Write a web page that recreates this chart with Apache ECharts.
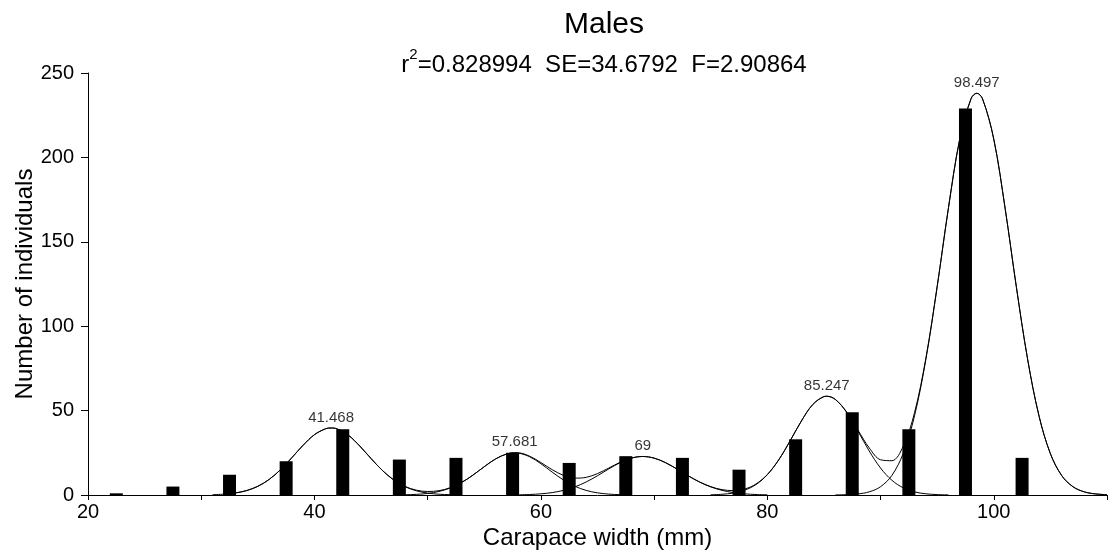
<!DOCTYPE html>
<html>
<head>
<meta charset="utf-8">
<script src="https://cdn.jsdelivr.net/npm/echarts@6/dist/echarts.min.js"></script>
<style>
html,body{margin:0;padding:0;background:#fff;}
#chart{width:1110px;height:557px;}
</style>
</head>
<body>
<div id="chart"></div>
<script>
// ---- data ----
const binCenters = [22.5, 27.5, 32.5, 37.5, 42.5, 47.5, 52.5, 57.5, 62.5, 67.5, 72.5, 77.5, 82.5, 87.5, 92.5, 97.5, 102.5];
const counts     = [1, 5, 12, 20, 39, 21, 22, 25, 19, 23, 22, 15, 33, 49, 39, 229, 22];

const peakMeans   = [41.468, 57.681, 69, 85.247, 98.497];
const peakHeights = [39.7, 25.0, 22.8, 58.5, 238.0];
const peakLabels  = ['41.468', '57.681', '69', '85.247', '98.497'];

// total fitted curve
const sumX = [31,32,33,34,35,36,37,38,39,40,41,41.468,42,43,44,45,46,47,48,49,50,51,52,53,54,55,56,57,57.681,58,59,60,61,62,63,64,65,66,67,68,69,70,71,72,73,74,75,76,77,78,79,80,81,82,83,84,85,85.247,86,87,88,89,90,91,92,93,94,95,96,97,98,98.497,99,100,101,102,103,104,105,106,107,108,109,110];
const sumY = [0.19,0.50,1.20,2.61,5.15,9.22,14.98,22.07,29.49,35.73,39.28,39.70,39.16,35.40,29.03,21.59,14.56,8.95,5.08,2.87,2.07,2.56,4.34,7.46,11.80,16.77,21.37,24.37,25.00,24.98,23.00,19.23,14.99,11.61,10.00,10.45,12.69,15.98,19.38,21.91,22.82,21.84,19.18,15.45,11.41,7.77,4.95,3.17,2.60,3.55,6.51,12.14,20.78,31.92,43.76,53.50,58.30,58.50,56.67,49.23,38.48,27.91,20.88,20.32,28.86,48.74,80.95,123.55,170.28,211.0,234.9,238.0,234.8,210.8,169.9,123.0,80.0,46.7,24.5,11.5,4.88,1.85,0.63,0.19];

// individual components
const comp1X = [32,33,34,35,36,37,38,39,40,41,41.468,42,43,44,45,46,47,48,49,50,51,52,53];
const comp1Y = [0.50,1.20,2.61,5.15,9.22,14.98,22.07,29.49,35.73,39.28,39.70,39.16,35.40,29.03,21.59,14.56,8.91,4.94,2.49,1.13,0.47,0.18,0.06];
const comp2X = [47,48,49,50,51,52,53,54,55,56,57,57.681,58,59,60,61,62,63,64,65,66,67,68];
const comp2Y = [0.04,0.14,0.38,0.94,2.09,4.16,7.40,11.78,16.77,21.37,24.37,25.00,24.86,22.70,18.54,13.56,8.87,5.19,2.72,1.28,0.53,0.20,0.07];
const comp3X = [58,59,60,61,62,63,64,65,66,67,68,69,70,71,72,73,74,75,76,77,78,79,80];
const comp3Y = [0.12,0.30,0.69,1.43,2.74,4.81,7.73,11.41,15.45,19.18,21.84,22.80,21.84,19.18,15.45,11.41,7.73,4.81,2.74,1.43,0.69,0.30,0.12];
const comp4X = [75,76,77,78,79,80,81,82,83,84,85,85.247,86,87,88,89,90,91,92,93,94,95,96];
const comp4Y = [0.14,0.43,1.17,2.86,6.21,12.02,20.74,31.92,43.76,53.50,58.30,58.50,56.62,49.03,37.84,26.04,15.97,8.73,4.25,1.85,0.72,0.25,0.08];
const comp5X = [86,87,88,89,90,91,92,93,94,95,96,97,98,98.497,99,100,101,102,103,104,105,106,107,108,109,110];
const comp5Y = [0.05,0.20,0.64,1.87,4.91,11.59,24.61,46.89,80.23,123.3,170.2,211.0,234.9,238.0,234.8,210.8,169.9,123.0,80.0,46.7,24.5,11.5,4.88,1.85,0.63,0.19];

const xTickLabels = ['20', '40', '60', '80', '100'];

// ---- build ----
const zip = (xs, ys) => xs.map((x, i) => [x, ys[i]]);
const FONT = '"Liberation Sans", Arial, sans-serif';
const lineStyle = { color: '#000', width: 1 };
function curve(xs, ys) {
  return { type: 'line', data: zip(xs, ys), smooth: 0.35, showSymbol: false, symbol: 'none',
    lineStyle: lineStyle, silent: true, z: 3, animation: false };
}

const chart = echarts.init(document.getElementById('chart'), null, { renderer: 'canvas' });
chart.setOption({
  animation: false,
  backgroundColor: '#fff',
  textStyle: { fontFamily: FONT, color: '#000' },
  title: [
    { text: 'Males', left: 599, top: 5, textAlign: 'center',
      textStyle: { fontFamily: FONT, fontSize: 30, fontWeight: 'normal', color: '#000' } },
    { text: '{r|r}{s|2}{r|=0.828994  SE=34.6792  F=2.90864}', left: 599, top: 42, textAlign: 'center',
      textStyle: { fontFamily: FONT, fontWeight: 'normal', color: '#000',
        rich: {
          r: { fontFamily: FONT, fontSize: 24, color: '#000', lineHeight: 30, verticalAlign: 'bottom' },
          s: { fontFamily: FONT, fontSize: 15, color: '#000', lineHeight: 16, verticalAlign: 'top' }
        } } }
  ],
  grid: { left: 88, right: 0, top: 73, bottom: 62, containLabel: false },
  xAxis: {
    type: 'value', min: 20, max: 110, interval: 10,
    name: 'Carapace width (mm)', nameLocation: 'middle', nameGap: 31, nameMoveOverlap: false,
    nameTextStyle: { fontFamily: FONT, fontSize: 24, color: '#000' },
    axisLine: { show: true, onZero: false, lineStyle: { color: '#000', width: 1 } },
    axisTick: { show: true, length: 5, lineStyle: { color: '#000' } },
    axisLabel: { fontFamily: FONT, fontSize: 20, color: '#000', margin: 7,
      formatter: v => (xTickLabels.indexOf(String(v)) >= 0 ? String(v) : '') },
    splitLine: { show: false }
  },
  yAxis: {
    type: 'value', min: 0, max: 250, interval: 50,
    name: 'Number of individuals', nameLocation: 'middle', nameGap: 51, nameMoveOverlap: false,
    nameTextStyle: { fontFamily: FONT, fontSize: 24, color: '#000' },
    axisLine: { show: true, lineStyle: { color: '#000', width: 1 } },
    axisTick: { show: true, length: 7, lineStyle: { color: '#000' } },
    axisLabel: { fontFamily: FONT, fontSize: 20, color: '#000', margin: 14 },
    splitLine: { show: false }
  },
  series: [
    { type: 'bar', data: zip(binCenters, counts), barWidth: 13,
      itemStyle: { color: '#000' }, z: 2, silent: true, animation: false },
    curve(sumX, sumY),
    curve(comp1X, comp1Y),
    curve(comp2X, comp2Y),
    curve(comp3X, comp3Y),
    curve(comp4X, comp4Y),
    curve(comp5X, comp5Y),
    { type: 'scatter', data: zip(peakMeans, peakHeights), symbolSize: 0, silent: true, z: 4,
      label: { show: true, position: 'top', distance: 3, fontFamily: FONT, fontSize: 15, color: '#000',
        textBorderWidth: 0, formatter: p => peakLabels[p.dataIndex] } }
  ]
});
</script>
</body>
</html>
